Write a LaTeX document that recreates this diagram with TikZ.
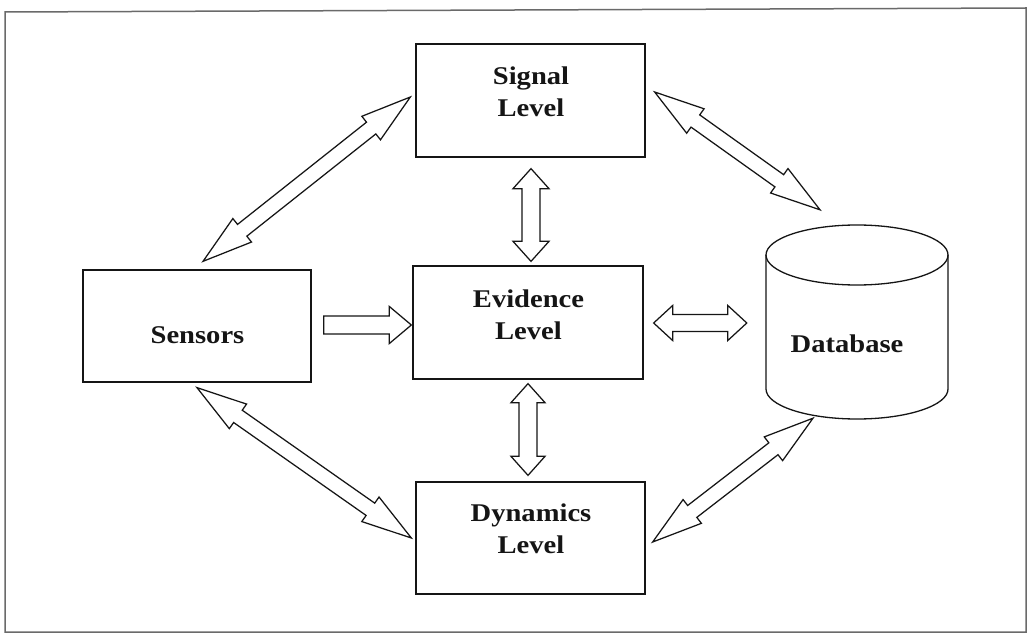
\documentclass[tikz,border=0pt]{standalone}
\usepackage{fontspec}
\setmainfont{Liberation Serif}[FakeStretch=1.12]
\usetikzlibrary{calc}

\definecolor{ink}{HTML}{151515}
\definecolor{framegray}{HTML}{6A6A6A}

% hollow arrow with a head at both ends: #1,#2 tips, #3 half shaft, #4 half head, #5 head length
\newcommand{\dualarrow}[5]{%
  \draw[arrowline] (#1)
    -- ($(#1)!#5!(#2)!#4!90:(#2)$) -- ($(#1)!#5!(#2)!#3!90:(#2)$)
    -- ($(#2)!#5!(#1)!#3!-90:(#1)$) -- ($(#2)!#5!(#1)!#4!-90:(#1)$)
    -- (#2)
    -- ($(#2)!#5!(#1)!#4!90:(#1)$) -- ($(#2)!#5!(#1)!#3!90:(#1)$)
    -- ($(#1)!#5!(#2)!#3!-90:(#2)$) -- ($(#1)!#5!(#2)!#4!-90:(#2)$)
    -- cycle;}
% hollow arrow with a flat tail at #1 and a head at #2
\newcommand{\monoarrow}[5]{%
  \draw[arrowline] ($(#1)!#3!90:(#2)$)
    -- ($(#2)!#5!(#1)!#3!-90:(#1)$) -- ($(#2)!#5!(#1)!#4!-90:(#1)$)
    -- (#2)
    -- ($(#2)!#5!(#1)!#4!90:(#1)$) -- ($(#2)!#5!(#1)!#3!90:(#1)$)
    -- ($(#1)!#3!-90:(#2)$)
    -- cycle;}

\tikzset{
  levelbox/.style={draw=ink, line width=1.3pt, inner sep=0pt,
                   minimum width=229pt, minimum height=113pt},
  lbl/.style={font=\fontsize{25.5}{32}\selectfont\bfseries, align=center,
              text=ink, inner sep=0pt},
  arrowline/.style={draw=ink, line width=1.25pt, line join=miter, fill=white},
  cylline/.style={draw=ink, line width=1.3pt},
}

\begin{document}
\begin{tikzpicture}[x=1pt, y=-1pt]
  \useasboundingbox (0,0) rectangle (1030,636);
  \fill[white] (0,0) rectangle (1030,636);
  \draw[framegray, line width=1.5pt] (5,12) -- (1026,8) -- (1026,632) -- (5,632) -- cycle;

  % level boxes
  \node[levelbox] (sen) at (197,326) [minimum width=228pt, minimum height=112pt] {};
  \node[levelbox] (sig) at (530.5,100.5) {};
  \node[levelbox] (evi) at (528,322.5) [minimum width=230pt] {};
  \node[levelbox] (dyn) at (530.5,538) [minimum height=112pt] {};

  % database cylinder
  \node[inner sep=0pt, minimum width=182pt, minimum height=194pt] (db) at (857,322) {};
  \draw[cylline] (766,255) -- (766,389) arc[start angle=180, end angle=0, x radius=91, y radius=30] -- (948,255);
  \draw[cylline] (857,255) ellipse[x radius=91, y radius=30];

  % labels
  \node[lbl] (sen-t) at (197.5,335) {Sensors};
  \node[lbl] (sig-t) at (531,91.5) {Signal\\Level};
  \node[lbl] (evi-t) at (528.5,314.5) {Evidence\\Level};
  \node[lbl] (dyn-t) at (531,529) {Dynamics\\Level};
  \node[lbl] (db-t) at (847,344) {Database};

  % arrow end points
  \coordinate (a1a) at ($(sen.north)+(6,-8)$);
  \coordinate (a1b) at ($(sig.west)+(-5,-3.5)$);
  \coordinate (a2a) at ($(sig.east)+(9,-8.5)$);
  \coordinate (a2b) at ($(db.north)+(-37,-15)$);
  \coordinate (a3a) at ($(sen.south)+(0,5)$);
  \coordinate (a3b) at ($(dyn.west)+(-4,0)$);
  \coordinate (a4a) at ($(db.south)+(-44,-1)$);
  \coordinate (a4b) at ($(dyn.east)+(7,4)$);
  \coordinate (h1a) at ($(sen.east)+(12,-1)$);
  \coordinate (h1b) at ($(evi.west)+(-1,2.5)$);
  \coordinate (h2a) at ($(evi.east)+(10,0.5)$);
  \coordinate (h2b) at ($(db.west)+(-19,1)$);
  \coordinate (v1a) at ($(sig.south)+(0.5,11)$);
  \coordinate (v1b) at ($(evi.north)+(3,-4)$);
  \coordinate (v2a) at ($(evi.south)+(0,4)$);
  \coordinate (v2b) at ($(dyn.north)+(-2.5,-6)$);

  % diagonal links
  \dualarrow{a1a}{a1b}{7.5pt}{15pt}{50pt}
  \dualarrow{a2a}{a2b}{7.5pt}{15pt}{50pt}
  \dualarrow{a3a}{a3b}{7.5pt}{15pt}{50pt}
  \dualarrow{a4a}{a4b}{7.5pt}{15pt}{50pt}

  % straight links
  \monoarrow{h1a}{h1b}{9pt}{18.5pt}{22pt}
  \dualarrow{h2a}{h2b}{8.5pt}{17.5pt}{19pt}
  \dualarrow{v1a}{v1b}{9pt}{18pt}{20pt}
  \dualarrow{v2a}{v2b}{9pt}{17pt}{19pt}
\end{tikzpicture}
\end{document}
